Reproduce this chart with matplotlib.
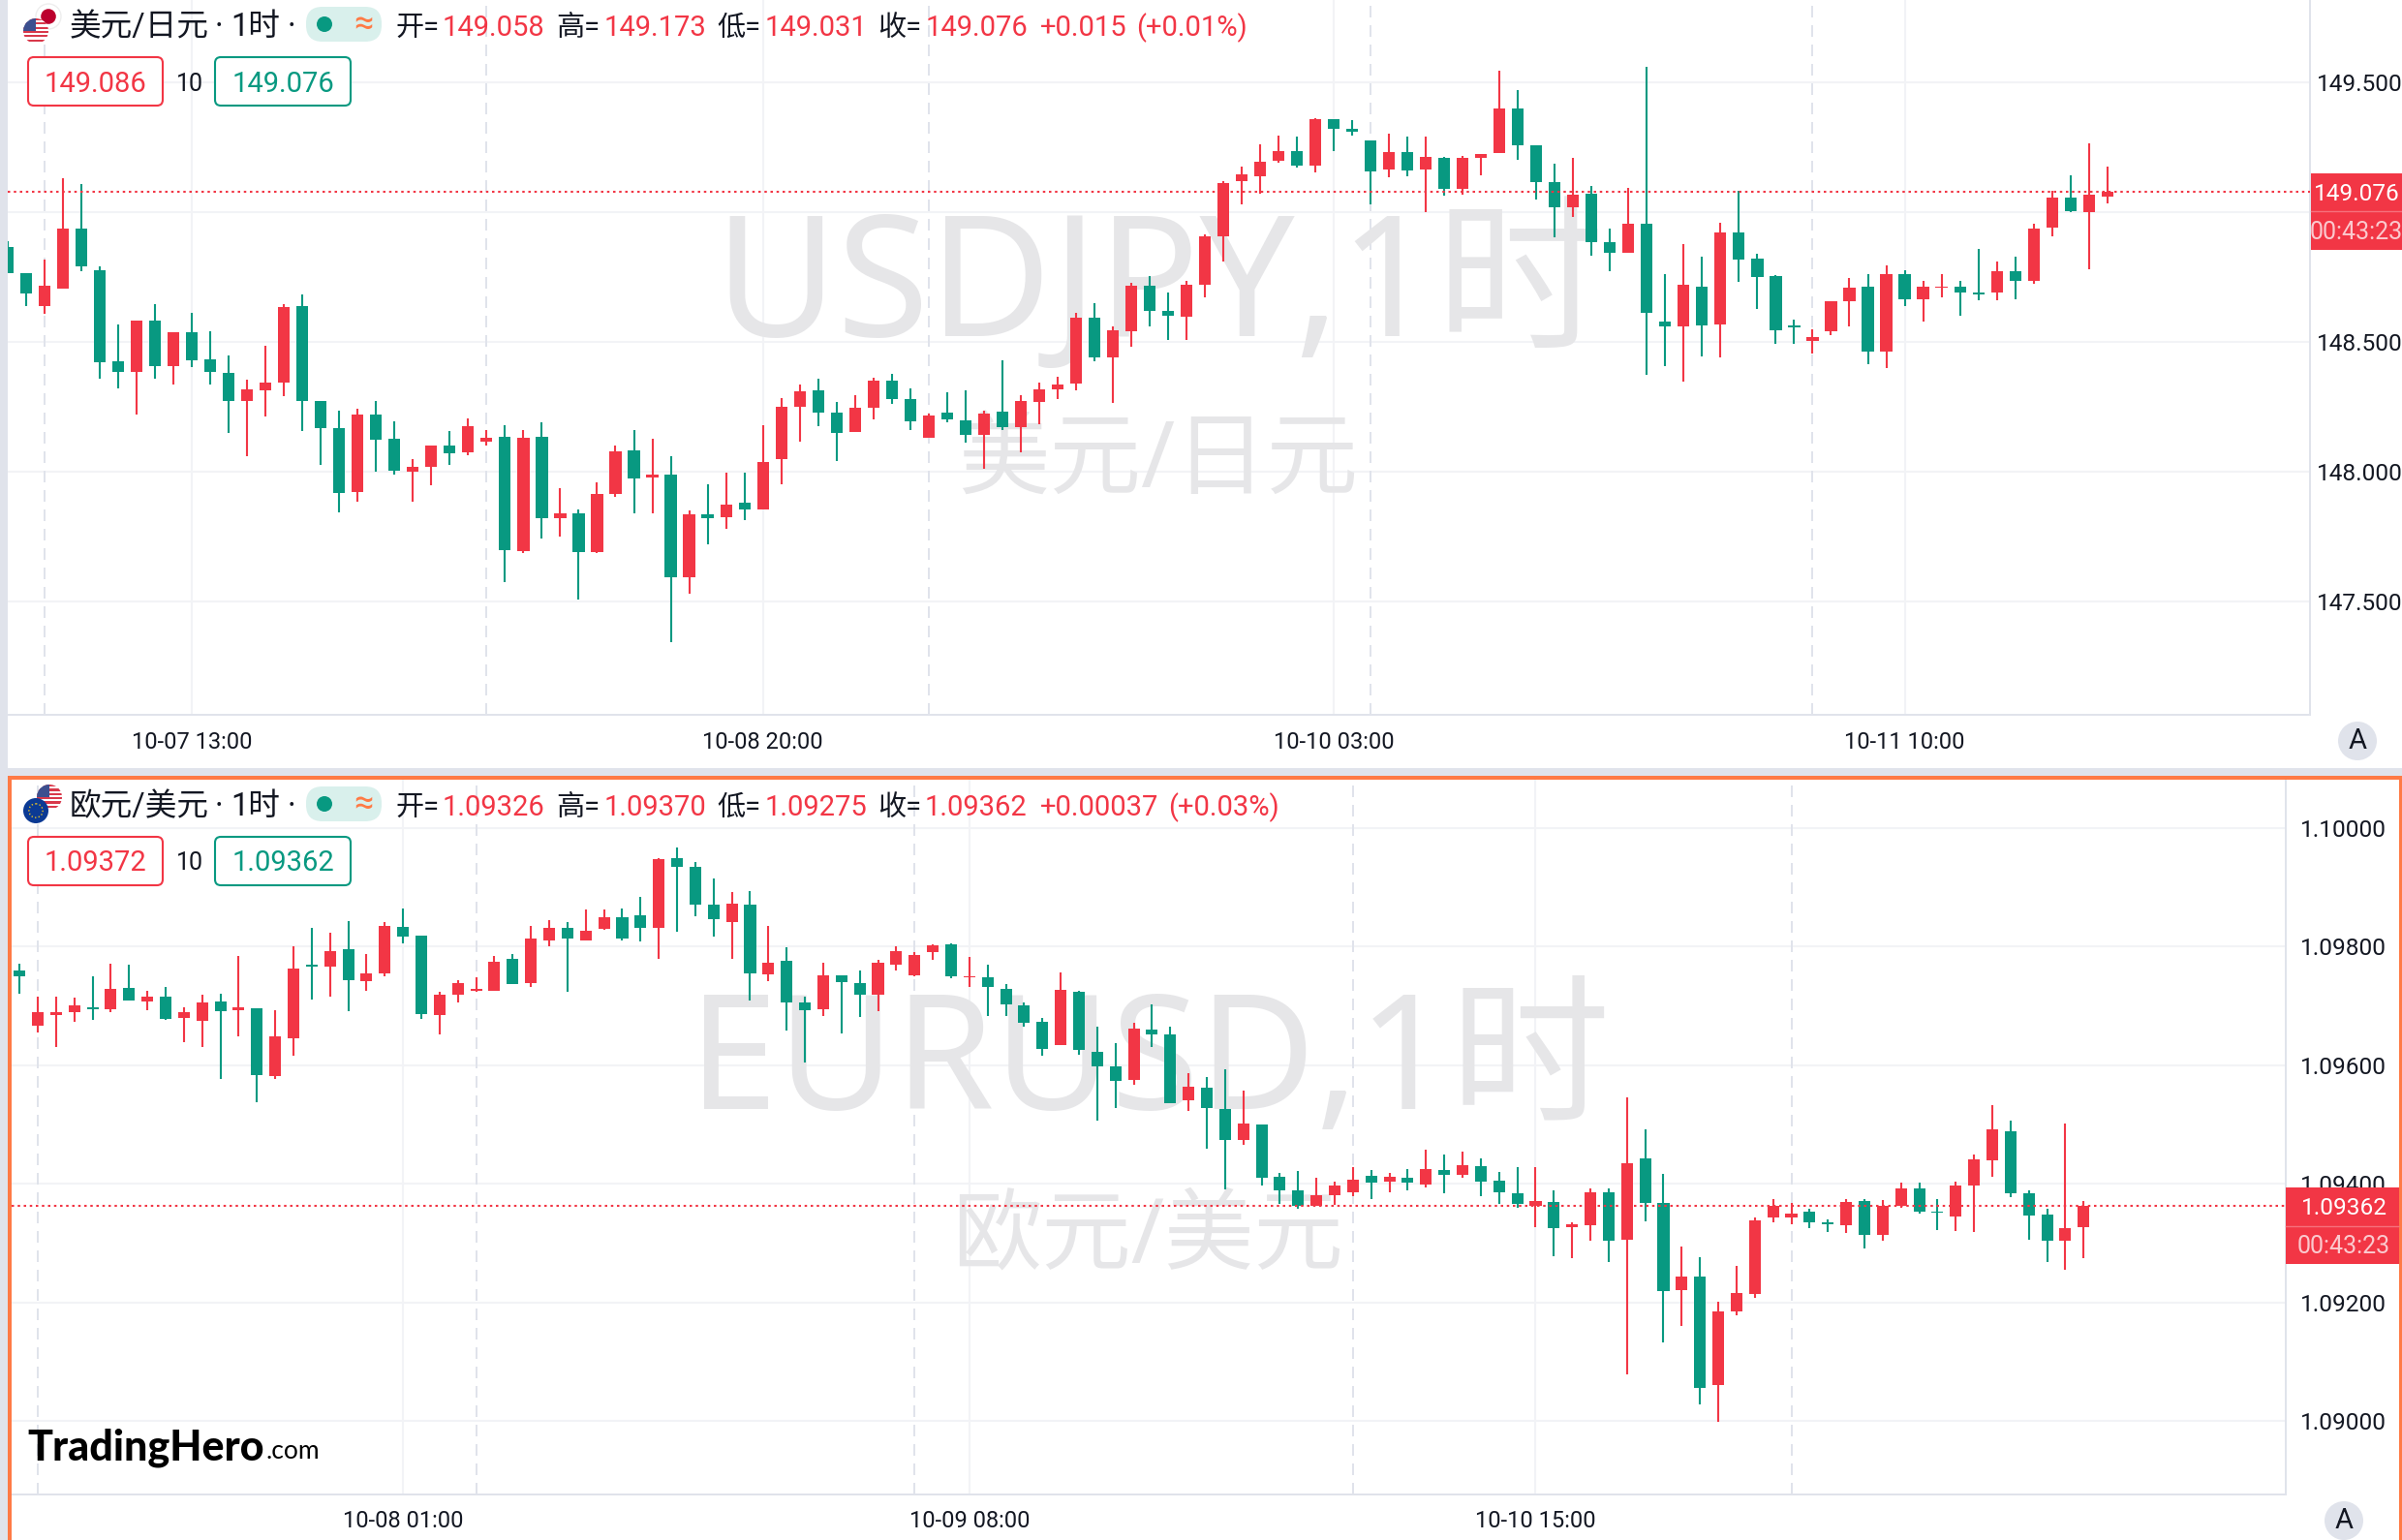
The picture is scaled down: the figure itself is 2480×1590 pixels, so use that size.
import matplotlib
matplotlib.use("Agg")
import matplotlib.pyplot as plt
from matplotlib.patches import Rectangle, FancyBboxPatch, Circle

plt.rcParams['font.family'] = ['Roboto', 'Noto Sans CJK SC', 'DejaVu Sans']

# --- USD/JPY candles ---
jpy_open = [148.866, 148.764, 148.636, 148.704, 148.935, 148.775, 148.424, 148.384, 148.581, 148.405,
            148.536, 148.432, 148.379, 148.270, 148.312, 148.342, 148.636, 148.270, 148.167, 147.921,
            148.219, 148.125, 147.998, 148.018, 148.099, 148.073, 148.115, 148.133, 147.693, 148.133,
            147.819, 147.838, 147.689, 147.913, 148.081, 147.976, 147.987, 147.592, 147.835, 147.824,
            147.879, 147.853, 148.047, 148.249, 148.312, 148.227, 148.152, 148.244, 148.350, 148.278,
            148.130, 148.227, 148.196, 148.141, 148.230, 148.170, 148.267, 148.316, 148.338, 148.592,
            148.439, 148.539, 148.715, 148.618, 148.596, 148.718, 148.905, 149.118, 149.136, 149.196,
            149.233, 149.178, 149.356, 149.319, 149.275, 149.162, 149.230, 149.162, 149.207, 149.087,
            149.207, 149.227, 149.398, 149.256, 149.113, 149.018, 149.068, 148.881, 148.843, 148.955,
            148.578, 148.559, 148.713, 148.567, 148.919, 148.818, 148.753, 148.563, 148.504, 148.538,
            148.656, 148.713, 148.460, 148.761, 148.664, 148.708, 148.710, 148.690, 148.690, 148.772,
            148.732, 148.940, 149.056, 148.997, 149.058]
jpy_high = [148.888, 148.764, 148.817, 149.129, 149.107, 148.790, 148.566, 148.581, 148.644, 148.536,
            148.610, 148.539, 148.447, 148.353, 148.484, 148.644, 148.681, 148.270, 148.233, 148.241,
            148.270, 148.193, 148.047, 148.099, 148.155, 148.204, 148.159, 148.178, 148.159, 148.189,
            147.935, 147.854, 147.958, 148.099, 148.159, 148.125, 148.058, 147.850, 147.950, 147.995,
            147.995, 148.178, 148.282, 148.335, 148.356, 148.267, 148.293, 148.361, 148.375, 148.319,
            148.222, 148.304, 148.312, 148.233, 148.427, 148.293, 148.342, 148.364, 148.610, 148.647,
            148.558, 148.727, 148.752, 148.689, 148.733, 148.913, 149.117, 149.173, 149.259, 149.293,
            149.290, 149.361, 149.356, 149.353, 149.275, 149.301, 149.290, 149.290, 149.210, 149.215,
            149.222, 149.544, 149.469, 149.256, 149.184, 149.207, 149.098, 148.936, 149.090, 149.557,
            148.761, 148.877, 148.826, 148.959, 149.079, 148.837, 148.757, 148.586, 148.546, 148.656,
            148.744, 148.761, 148.795, 148.776, 148.732, 148.761, 148.732, 148.858, 148.810, 148.826,
            148.955, 149.079, 149.142, 149.262, 149.173]
jpy_low = [148.764, 148.636, 148.607, 148.704, 148.770, 148.356, 148.319, 148.219, 148.356, 148.335,
           148.401, 148.335, 148.147, 148.058, 148.210, 148.290, 148.155, 148.024, 147.842, 147.884,
           147.998, 147.987, 147.884, 147.947, 148.024, 148.062, 148.099, 147.573, 147.685, 147.741,
           147.749, 147.507, 147.686, 147.901, 147.838, 147.838, 147.342, 147.528, 147.719, 147.778,
           147.812, 147.853, 147.950, 148.115, 148.173, 148.039, 148.152, 148.201, 148.259, 148.159,
           148.130, 148.189, 148.110, 148.010, 148.159, 148.073, 148.181, 148.278, 148.312, 148.424,
           148.264, 148.479, 148.558, 148.507, 148.507, 148.670, 148.808, 149.028, 149.070, 149.189,
           149.170, 149.152, 149.233, 149.293, 149.028, 149.133, 149.136, 148.998, 149.062, 149.066,
           149.141, 149.227, 149.201, 149.047, 148.901, 148.979, 148.830, 148.772, 148.843, 148.370,
           148.407, 148.344, 148.441, 148.437, 148.729, 148.624, 148.492, 148.492, 148.452, 148.523,
           148.559, 148.414, 148.399, 148.635, 148.578, 148.671, 148.601, 148.660, 148.660, 148.664,
           148.721, 148.904, 148.997, 148.780, 149.031]
jpy_close = [148.764, 148.686, 148.715, 148.935, 148.790, 148.421, 148.384, 148.581, 148.405, 148.536,
             148.427, 148.384, 148.270, 148.316, 148.342, 148.633, 148.270, 148.167, 147.916, 148.219,
             148.121, 148.002, 148.018, 148.099, 148.070, 148.173, 148.130, 147.696, 148.130, 147.819,
             147.838, 147.689, 147.913, 148.076, 147.973, 147.987, 147.592, 147.835, 147.819, 147.872,
             147.853, 148.036, 148.249, 148.308, 148.227, 148.147, 148.244, 148.350, 148.278, 148.193,
             148.215, 148.201, 148.141, 148.222, 148.170, 148.270, 148.316, 148.335, 148.592, 148.439,
             148.544, 148.715, 148.618, 148.599, 148.718, 148.905, 149.110, 149.144, 149.193, 149.233,
             149.178, 149.356, 149.319, 149.307, 149.155, 149.230, 149.159, 149.210, 149.087, 149.207,
             149.222, 149.398, 149.256, 149.113, 149.018, 149.066, 148.881, 148.843, 148.955, 148.609,
             148.559, 148.717, 148.563, 148.919, 148.814, 148.750, 148.542, 148.555, 148.519, 148.656,
             148.706, 148.460, 148.761, 148.664, 148.710, 148.713, 148.690, 148.683, 148.772, 148.732,
             148.936, 149.056, 149.001, 149.064, 149.076]

# --- EUR/USD candles ---
eur_open = [1.09759, 1.09667, 1.09685, 1.09689, 1.09698, 1.09694, 1.09730, 1.09708, 1.09716, 1.09679,
            1.09675, 1.09708, 1.09693, 1.09696, 1.09582, 1.09645, 1.09769, 1.09766, 1.09796, 1.09742,
            1.09755, 1.09833, 1.09818, 1.09684, 1.09718, 1.09725, 1.09725, 1.09779, 1.09738, 1.09810,
            1.09832, 1.09810, 1.09830, 1.09849, 1.09853, 1.09832, 1.09949, 1.09934, 1.09871, 1.09841,
            1.09871, 1.09753, 1.09776, 1.09706, 1.09694, 1.09752, 1.09738, 1.09718, 1.09769, 1.09752,
            1.09791, 1.09803, 1.09748, 1.09748, 1.09728, 1.09701, 1.09673, 1.09634, 1.09723, 1.09623,
            1.09598, 1.09575, 1.09660, 1.09652, 1.09541, 1.09562, 1.09526, 1.09473, 1.09500, 1.09412,
            1.09389, 1.09363, 1.09381, 1.09386, 1.09413, 1.09403, 1.09410, 1.09398, 1.09423, 1.09415,
            1.09430, 1.09405, 1.09384, 1.09363, 1.09369, 1.09327, 1.09330, 1.09386, 1.09306, 1.09443,
            1.09368, 1.09221, 1.09243, 1.09061, 1.09185, 1.09214, 1.09343, 1.09343, 1.09353, 1.09335,
            1.09330, 1.09371, 1.09313, 1.09363, 1.09392, 1.09353, 1.09345, 1.09397, 1.09439, 1.09488,
            1.09384, 1.09348, 1.09304, 1.09326]
eur_high = [1.09771, 1.09716, 1.09716, 1.09714, 1.09750, 1.09771, 1.09769, 1.09726, 1.09732, 1.09698,
            1.09718, 1.09720, 1.09784, 1.09696, 1.09693, 1.09800, 1.09832, 1.09823, 1.09843, 1.09788,
            1.09841, 1.09864, 1.09818, 1.09723, 1.09743, 1.09748, 1.09784, 1.09788, 1.09835, 1.09844,
            1.09841, 1.09863, 1.09863, 1.09864, 1.09883, 1.09949, 1.09967, 1.09943, 1.09915, 1.09892,
            1.09893, 1.09835, 1.09799, 1.09716, 1.09773, 1.09752, 1.09759, 1.09778, 1.09800, 1.09791,
            1.09803, 1.09805, 1.09782, 1.09769, 1.09737, 1.09706, 1.09679, 1.09757, 1.09725, 1.09665,
            1.09637, 1.09672, 1.09703, 1.09665, 1.09587, 1.09580, 1.09593, 1.09557, 1.09500, 1.09418,
            1.09422, 1.09410, 1.09403, 1.09428, 1.09423, 1.09418, 1.09425, 1.09458, 1.09449, 1.09454,
            1.09443, 1.09420, 1.09428, 1.09428, 1.09389, 1.09335, 1.09392, 1.09392, 1.09546, 1.09492,
            1.09417, 1.09294, 1.09276, 1.09201, 1.09262, 1.09343, 1.09374, 1.09368, 1.09358, 1.09340,
            1.09374, 1.09374, 1.09373, 1.09402, 1.09402, 1.09374, 1.09403, 1.09449, 1.09533, 1.09507,
            1.09389, 1.09358, 1.09502, 1.09370]
eur_low = [1.09720, 1.09655, 1.09631, 1.09673, 1.09677, 1.09689, 1.09709, 1.09693, 1.09677, 1.09638,
           1.09631, 1.09577, 1.09648, 1.09538, 1.09577, 1.09616, 1.09711, 1.09716, 1.09691, 1.09725,
           1.09750, 1.09805, 1.09678, 1.09652, 1.09706, 1.09724, 1.09725, 1.09737, 1.09732, 1.09800,
           1.09723, 1.09810, 1.09828, 1.09810, 1.09808, 1.09779, 1.09825, 1.09851, 1.09817, 1.09779,
           1.09709, 1.09742, 1.09658, 1.09604, 1.09683, 1.09653, 1.09681, 1.09691, 1.09759, 1.09750,
           1.09778, 1.09747, 1.09732, 1.09683, 1.09683, 1.09665, 1.09616, 1.09634, 1.09618, 1.09507,
           1.09528, 1.09567, 1.09631, 1.09536, 1.09523, 1.09459, 1.09391, 1.09466, 1.09397, 1.09366,
           1.09358, 1.09363, 1.09364, 1.09379, 1.09374, 1.09386, 1.09388, 1.09393, 1.09384, 1.09410,
           1.09379, 1.09366, 1.09359, 1.09327, 1.09278, 1.09274, 1.09304, 1.09268, 1.09078, 1.09337,
           1.09133, 1.09160, 1.09028, 1.08998, 1.09178, 1.09208, 1.09335, 1.09332, 1.09325, 1.09318,
           1.09317, 1.09291, 1.09304, 1.09359, 1.09349, 1.09322, 1.09320, 1.09318, 1.09412, 1.09378,
           1.09306, 1.09268, 1.09255, 1.09275]
eur_close = [1.09750, 1.09689, 1.09689, 1.09701, 1.09695, 1.09728, 1.09709, 1.09716, 1.09678, 1.09689,
             1.09706, 1.09691, 1.09697, 1.09583, 1.09648, 1.09763, 1.09766, 1.09793, 1.09743, 1.09755,
             1.09835, 1.09817, 1.09686, 1.09718, 1.09738, 1.09728, 1.09774, 1.09737, 1.09813, 1.09832,
             1.09813, 1.09827, 1.09849, 1.09813, 1.09832, 1.09948, 1.09934, 1.09871, 1.09846, 1.09873,
             1.09755, 1.09773, 1.09706, 1.09693, 1.09752, 1.09740, 1.09718, 1.09773, 1.09793, 1.09786,
             1.09802, 1.09750, 1.09750, 1.09732, 1.09703, 1.09672, 1.09628, 1.09727, 1.09626, 1.09598,
             1.09573, 1.09662, 1.09652, 1.09536, 1.09563, 1.09528, 1.09473, 1.09502, 1.09410, 1.09389,
             1.09363, 1.09381, 1.09397, 1.09407, 1.09402, 1.09412, 1.09402, 1.09425, 1.09415, 1.09432,
             1.09403, 1.09386, 1.09366, 1.09371, 1.09325, 1.09332, 1.09386, 1.09304, 1.09434, 1.09368,
             1.09219, 1.09243, 1.09056, 1.09185, 1.09216, 1.09338, 1.09363, 1.09350, 1.09335, 1.09332,
             1.09369, 1.09313, 1.09363, 1.09392, 1.09353, 1.09351, 1.09397, 1.09441, 1.09492, 1.09384,
             1.09347, 1.09304, 1.09325, 1.09362]

# --- ticks ---
jpy_yticks = [147.5, 148.0, 148.5, 149.0, 149.5]
jpy_ylabels = ["147.500", "148.000", "148.500", "", "149.500"]
jpy_xticks = [10, 41, 72, 103]
jpy_xlabels = ["10-07 13:00", "10-08 20:00", "10-10 03:00", "10-11 10:00"]
jpy_sessions = [2, 26, 50, 74, 98]

eur_yticks = [1.09, 1.092, 1.094, 1.096, 1.098, 1.10]
eur_ylabels = ["1.09000", "1.09200", "1.09400", "1.09600", "1.09800", "1.10000"]
eur_xticks = [21, 52, 83]
eur_xlabels = ["10-08 01:00", "10-09 08:00", "10-10 15:00"]
eur_sessions = [1, 25, 49, 73, 97]

RED = "#f23645"
GREEN = "#089981"
GRID = "#f2f3f6"
EDGE = "#e0e3eb"
ORANGE = "#ff7a45"
WATER = "#e6e6e8"
WM_FONT = ['Noto Sans', 'Noto Sans CJK SC']
W, H = 2480, 1590

fig = plt.figure(figsize=(W / 100, H / 100), dpi=100, facecolor="white")


def make_pane(box, xlim, ylim, o, h, l, c, yticks, ylabels, xticks, xlabels, sessions, ypad):
    left, top, right, bottom = box
    ax = fig.add_axes([left / W, 1 - bottom / H, (right - left) / W, (bottom - top) / H])
    ax.set_xlim(*xlim)
    ax.set_ylim(*ylim)
    ax.set_facecolor("white")
    for name in ["top", "left"]:
        ax.spines[name].set_visible(False)
    for name in ["right", "bottom"]:
        ax.spines[name].set_color(EDGE)
        ax.spines[name].set_linewidth(1.4)
    ax.grid(True, color=GRID, linewidth=1.5, zorder=0)
    ax.set_axisbelow(True)
    for s in sessions:
        ax.axvline(s, color=EDGE, linewidth=1.44, linestyle=(0, (6, 4)), zorder=1)
    ax.yaxis.tick_right()
    ax.set_yticks(yticks, ylabels)
    ax.set_xticks(xticks, xlabels)
    ax.tick_params(axis="y", length=0, pad=ypad, labelsize=17.6, labelcolor="#131722")
    ax.tick_params(axis="x", length=0, pad=12, labelsize=17, labelcolor="#131722")

    # candles, red goes up here
    idx = range(len(o))
    cols = [RED if c[i] >= o[i] else GREEN for i in idx]
    ax.vlines(list(idx), l, h, colors=cols, linewidth=1.5, zorder=3)
    ax.bar(list(idx), [abs(c[i] - o[i]) for i in idx], bottom=[min(o[i], c[i]) for i in idx],
           width=0.64, color=cols, linewidth=0, zorder=4)
    # last price
    ax.axhline(c[-1], color=RED, linewidth=1.5, linestyle=(0, (1.2, 1.8)), zorder=5)
    return ax


ax1 = make_pane((8, 0, 2385.5, 738), ((8 - 8.0) / 19.015, (2385.5 - 8.0) / 19.015),
                (149.5 - (738 - 84.6) / 268, 149.5 + 84.6 / 268),
                jpy_open, jpy_high, jpy_low, jpy_close,
                jpy_yticks, jpy_ylabels, jpy_xticks, jpy_xlabels, jpy_sessions, 4.5)
ax2 = make_pane((12, 805, 2360, 1542.5), ((12 - 20.1) / 18.86, (2360 - 20.1) / 18.86),
                (1.09 - 75.5 / 61224, 1.10 + 49.8 / 61224),
                eur_open, eur_high, eur_low, eur_close,
                eur_yticks, eur_ylabels, eur_xticks, eur_xlabels, eur_sessions, 11)

# overlay in pixel coordinates for the chrome around the panes
ov = fig.add_axes([0, 0, 1, 1], zorder=10)
ov.set_xlim(0, W)
ov.set_ylim(H, 0)
ov.axis("off")

# watermarks sit under the candles
for ax, big, bs, bx, by, small, ss, sx, sy in [
    (ax1, "USDJPY,1时", 125, 1197, 300, "美元/日元", 68, 1196, 478),
    (ax2, "EURUSD,1时", 119, 1187, 1103, "欧元/美元", 66.5, 1185, 1279),
]:
    ax.text(bx, by, big, transform=ov.transData, fontsize=bs, family=WM_FONT, color=WATER,
            ha="center", va="center", zorder=1)
    ax.text(sx, sy, small, transform=ov.transData, fontsize=ss, family=WM_FONT, color=WATER,
            ha="center", va="center", zorder=1)

# frame strips
ov.add_patch(Rectangle((0, 0), 8, H, color=EDGE, lw=0))
ov.add_patch(Rectangle((0, 793), W, 8, color=EDGE, lw=0))
ov.add_patch(Rectangle((8, 801), W - 8, 4, color=ORANGE, lw=0))
ov.add_patch(Rectangle((8, 801), 4, H - 801, color=ORANGE, lw=0))
ov.add_patch(Rectangle((W - 3, 801), 3, H - 801, color=ORANGE, lw=0))


def flag_us(cx, cy, r):
    disc = Circle((cx, cy), r, color="white", lw=0)
    ov.add_patch(disc)
    for k in range(6):
        y0 = cy - r + k * 2 * r / 6
        s = Rectangle((cx - r, y0), 2 * r, r / 6, color="#d8384a", lw=0)
        ov.add_patch(s)
        s.set_clip_path(disc)
    b = Rectangle((cx - r, cy - r), r, r, color="#3c4f8f", lw=0)
    ov.add_patch(b)
    b.set_clip_path(disc)


def flag_jp(cx, cy, r):
    ov.add_patch(Circle((cx, cy), r, facecolor="white", edgecolor="#eeeeee", lw=1))
    ov.add_patch(Circle((cx, cy), r * 0.6, color="#bc002d", lw=0))


def flag_eu(cx, cy, r):
    ov.add_patch(Circle((cx, cy), r, color="#0b3a94", lw=0))
    ov.add_patch(Circle((cx, cy), r * 0.55, facecolor="none", edgecolor="#e6c229", lw=1, linestyle=":"))


def header(cy, name_y, num_y, name, parts):
    ov.text(72, name_y, name, fontsize=23.5, color="#131722", va="center", ha="left")
    ov.text(222, name_y, "·", fontsize=24, color="#131722", va="center", ha="left")
    ov.text(238, name_y, "1时", fontsize=23.5, color="#131722", va="center", ha="left")
    ov.text(297, name_y, "·", fontsize=24, color="#131722", va="center", ha="left")
    ov.add_patch(FancyBboxPatch((316, cy - 18), 78, 36, boxstyle="round,pad=0,rounding_size=17",
                                facecolor="#d9f0ec", lw=0))
    ov.add_patch(Circle((335, cy), 8, color=GREEN, lw=0))
    ov.text(375, cy, "≈", fontsize=26, color=ORANGE, va="center", ha="center")
    for x, txt, col in parts:
        ov.text(x, num_y, txt, fontsize=21, color=col, va="center", ha="left")


def quote_boxes(cy, text_y, hgt, bid, ask):
    ov.add_patch(FancyBboxPatch((29, cy - hgt / 2), 139, hgt, boxstyle="round,pad=0,rounding_size=6",
                                facecolor="white", edgecolor=RED, lw=1.5))
    ov.add_patch(FancyBboxPatch((222, cy - hgt / 2), 140, hgt, boxstyle="round,pad=0,rounding_size=6",
                                facecolor="white", edgecolor=GREEN, lw=1.5))
    ov.text(98.5, text_y, bid, fontsize=21, color=RED, va="center", ha="center")
    ov.text(196, text_y, "10", fontsize=18, color="#131722", va="center", ha="center")
    ov.text(292, text_y, ask, fontsize=21, color=GREEN, va="center", ha="center")


def price_tag(x0, x1, y0, ymid, y1, price, cx):
    ov.add_patch(Rectangle((x0, y0), x1 - x0, y1 - y0, color=RED, lw=0))
    ov.plot([x0, x1], [ymid, ymid], color="#f6707c", lw=1)
    ov.text(cx, (y0 + ymid) / 2 + 2, price, fontsize=17.6, color="white", va="center", ha="center")
    ov.text(cx, (ymid + y1) / 2 + 2, "00:43:23", fontsize=18, color="#fbc9ce", va="center", ha="center")


def auto_button(cx, cy):
    ov.add_patch(Circle((cx, cy), 20, color=EDGE, lw=0))
    ov.text(cx, cy, "A", fontsize=21, color="#131722", va="center", ha="center")


# top pane chrome
flag_jp(50, 17, 13)
flag_us(37, 32, 13)
header(25, 28, 29, "美元/日元", [
    (408, "开=", "#131722"), (457, "149.058", RED), (574, "高=", "#131722"), (624, "149.173", RED),
    (740, "低=", "#131722"), (790, "149.031", RED), (906, "收=", "#131722"), (956, "149.076", RED),
    (1074, "+0.015", RED), (1173, "(+0.01%)", RED)])
quote_boxes(84, 87, 50, "149.086", "149.076")
price_tag(2385.5, W, 178.5, 218, 258, "149.076", 2433)
auto_button(2434, 765)

# bottom pane chrome
flag_us(51, 823, 13)
flag_eu(37, 837, 13)
header(830, 833, 834, "欧元/美元", [
    (408, "开=", "#131722"), (457, "1.09326", RED), (574, "高=", "#131722"), (624, "1.09370", RED),
    (740, "低=", "#131722"), (790, "1.09275", RED), (906, "收=", "#131722"), (955, "1.09362", RED),
    (1074, "+0.00037", RED), (1206, "(+0.03%)", RED)])
quote_boxes(889, 891, 50, "1.09372", "1.09362")
price_tag(2360, W - 3, 1225.5, 1265.5, 1305, "1.09362", 2420)
auto_button(2420, 1570)

# logo
ov.text(28, 1495, "TradingHero", fontsize=31, family="Lato", fontweight="black", color="black", va="center", ha="left")
ov.text(275, 1499, ".com", fontsize=19, family="Lato", color="black", va="center", ha="left")

fig.savefig("out.png", dpi=100)
print("saved out.png")
